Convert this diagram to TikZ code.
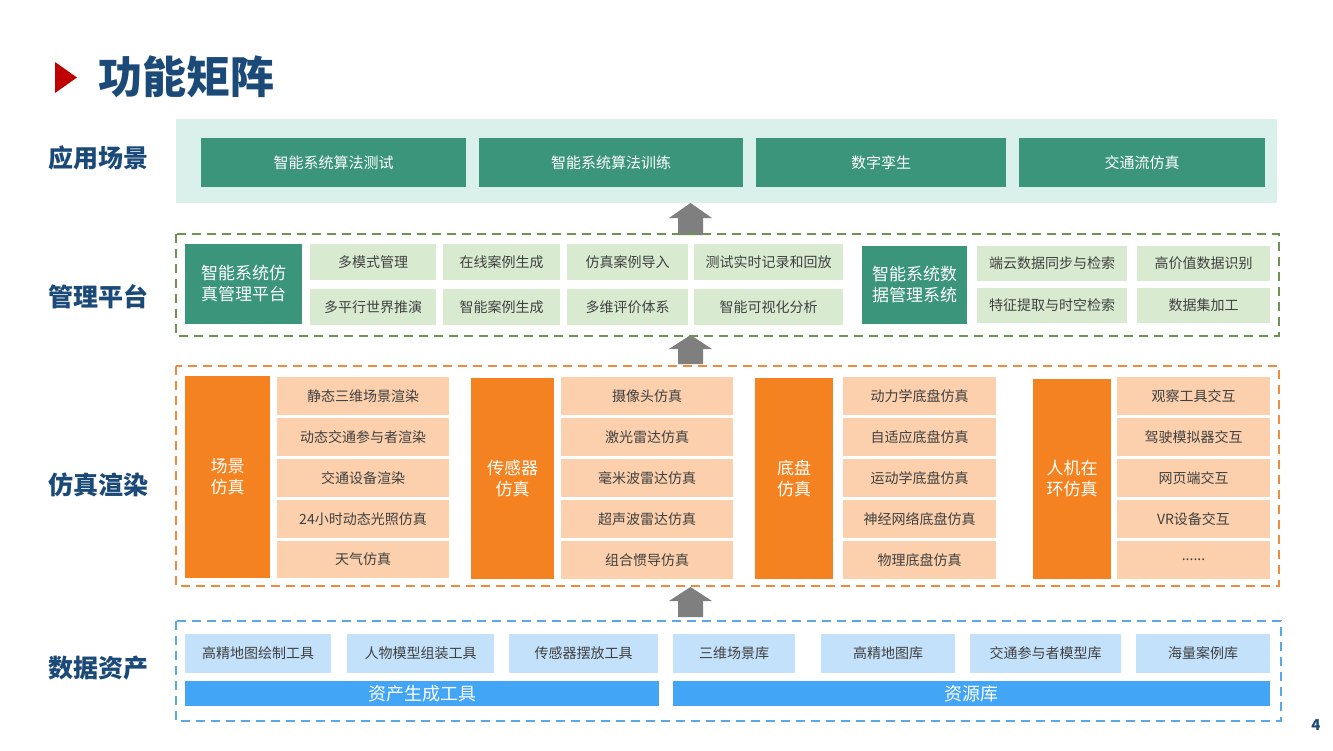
\documentclass[tikz,border=0pt]{standalone}
\usepackage{fontspec}
\setmainfont{Noto Sans CJK SC}
\definecolor{titleblue}{HTML}{1B4A78}
\definecolor{tealbg}{HTML}{DAF0EA}
\definecolor{tealbox}{HTML}{3A957A}
\definecolor{greendash}{HTML}{6F9350}
\definecolor{lightgreen}{HTML}{D8EBD0}
\definecolor{orangebox}{HTML}{F58220}
\definecolor{orangedash}{HTML}{F08A3C}
\definecolor{peach}{HTML}{FCD0AC}
\definecolor{bluedash}{HTML}{5AA8E6}
\definecolor{lightblue}{HTML}{C4E1FB}
\definecolor{bluebar}{HTML}{42A5F5}
\definecolor{arrowgray}{HTML}{7F7F7F}
\definecolor{txtgray}{HTML}{404040}
\definecolor{titlered}{HTML}{C00000}
\newcommand\rbox[7]{\node[#2, minimum width={(#5)-(#3)}, minimum height={(#6)-(#4)}] (#1) at ({((#3)+(#5))/2},{((#4)+(#6))/2}) {#7};}
\newcommand\blockarrow[5]{\fill[arrowgray] (#1) ++(-12.5,0) -- ++(0,{-(#3)}) -- ++(-9,0) -- ++(21.5,{-(#4)}) -- ++(21.5,{#4}) -- ++(-9,0) -- ++(0,{#3}) -- cycle;}
\begin{document}
\begin{tikzpicture}[x=1pt,y=-1pt,
  bx/.style={inner sep=0pt, align=center, font=\fontsize{14}{17}\selectfont, text=txtgray},
  appbox/.style={bx, fill=tealbox, text=white, font=\fontsize{15}{18}\selectfont},
  mainbox/.style={bx, fill=tealbox, text=white, font=\fontsize{17}{21}\selectfont},
  gbox/.style={bx, fill=lightgreen},
  obox/.style={bx, fill=orangebox, text=white, font=\fontsize{17}{21}\selectfont},
  pbox/.style={bx, fill=peach},
  lbbox/.style={bx, fill=lightblue},
  bbar/.style={bx, fill=bluebar, text=white, font=\fontsize{18}{21}\selectfont},
  layerlabel/.style={font=\fontsize{25}{28}\selectfont\bfseries, text=titleblue, inner sep=0pt},
  dashborder/.style={line width=1.8pt, dash pattern=on 9pt off 6pt}
]
\useasboundingbox (0,0) rectangle (1333,750);
\fill[white] (0,0) rectangle (1333,750);

% title
\fill[titlered] (55,62) -- (77,77.5) -- (55,93) -- cycle;
\node[anchor=west, inner sep=0pt, font=\fontsize{44}{48}\selectfont\bfseries, text=titleblue] (title) at (98,77) {功能矩阵};

% layer labels
\node[layerlabel] (l1) at (98,158) {应用场景};
\node[layerlabel] (l2) at (98,297) {管理平台};
\node[layerlabel] (l3) at (98,485) {仿真渲染};
\node[layerlabel] (l4) at (98,668) {数据资产};

% arrows (drawn below borders)
\coordinate (ar1) at (690.5,235);
\coordinate (ar2) at (690.5,364);
\coordinate (ar3) at (690.5,617);
\blockarrow{ar1}{}{17}{15}{}
\blockarrow{ar2}{}{15}{14}{}
\blockarrow{ar3}{}{16}{14}{}

% layer 1
\fill[tealbg] (176,119) rectangle (1277,203);
\rbox{a1}{appbox}{201}{138}{466}{187}{智能系统算法测试}
\rbox{a2}{appbox}{479}{138}{743}{187}{智能系统算法训练}
\rbox{a3}{appbox}{756}{138}{1006}{187}{数字孪生}
\rbox{a4}{appbox}{1019}{138}{1265}{187}{交通流仿真}

% layer 2
\draw[dashborder, greendash] (176,234) rectangle (1279,336);
\rbox{m1}{mainbox}{185}{244}{302}{324}{智能系统仿\\真管理平台}
\rbox{g11}{gbox}{310}{244}{436}{280}{多模式管理}
\rbox{g12}{gbox}{443}{244}{560}{280}{在线案例生成}
\rbox{g13}{gbox}{567}{244}{688}{280}{仿真案例导入}
\rbox{g14}{gbox}{694}{244}{843}{280}{测试实时记录和回放}
\rbox{g21}{gbox}{310}{289}{436}{325}{多平行世界推演}
\rbox{g22}{gbox}{443}{289}{560}{325}{智能案例生成}
\rbox{g23}{gbox}{567}{289}{688}{325}{多维评价体系}
\rbox{g24}{gbox}{694}{289}{843}{325}{智能可视化分析}
\rbox{m2}{mainbox}{862}{246}{967}{324}{智能系统数\\据管理系统}
\rbox{g15}{gbox}{977}{246}{1127}{281}{端云数据同步与检索}
\rbox{g16}{gbox}{1137}{246}{1270}{281}{高价值数据识别}
\rbox{g25}{gbox}{977}{288}{1127}{323}{特征提取与时空检索}
\rbox{g26}{gbox}{1137}{288}{1270}{323}{数据集加工}

% layer 3
\draw[dashborder, orangedash] (176,366) rectangle (1279,586);
\rbox{o1}{obox}{185}{376}{270}{578}{场景\\仿真}
\rbox{p11}{pbox}{277}{377}{449}{415}{静态三维场景渲染}
\rbox{p12}{pbox}{277}{418}{449}{456}{动态交通参与者渲染}
\rbox{p13}{pbox}{277}{459}{449}{497}{交通设备渲染}
\rbox{p14}{pbox}{277}{500}{449}{538}{24小时动态光照仿真}
\rbox{p15}{pbox}{277}{541}{449}{578}{天气仿真}
\rbox{o2}{obox}{471}{378}{554}{579}{传感器\\仿真}
\rbox{p21}{pbox}{561}{377}{733}{415}{摄像头仿真}
\rbox{p22}{pbox}{561}{418}{733}{456}{激光雷达仿真}
\rbox{p23}{pbox}{561}{459}{733}{497}{毫米波雷达仿真}
\rbox{p24}{pbox}{561}{500}{733}{538}{超声波雷达仿真}
\rbox{p25}{pbox}{561}{541}{733}{579}{组合惯导仿真}
\rbox{o3}{obox}{755}{378}{833}{579}{底盘\\仿真}
\rbox{p31}{pbox}{843}{377}{996}{415}{动力学底盘仿真}
\rbox{p32}{pbox}{843}{418}{996}{456}{自适应底盘仿真}
\rbox{p33}{pbox}{843}{459}{996}{497}{运动学底盘仿真}
\rbox{p34}{pbox}{843}{500}{996}{538}{神经网络底盘仿真}
\rbox{p35}{pbox}{843}{541}{996}{579}{物理底盘仿真}
\rbox{o4}{obox}{1033}{379}{1111}{579}{人机在\\环仿真}
\rbox{p41}{pbox}{1117}{377}{1270}{415}{观察工具交互}
\rbox{p42}{pbox}{1117}{418}{1270}{456}{驾驶模拟器交互}
\rbox{p43}{pbox}{1117}{459}{1270}{497}{网页端交互}
\rbox{p44}{pbox}{1117}{500}{1270}{538}{VR设备交互}
\rbox{p45}{pbox}{1117}{541}{1270}{579}{......}

% layer 4
\draw[dashborder, bluedash] (176,621) rectangle (1281,721);
\rbox{b1}{lbbox}{185}{634}{331}{673}{高精地图绘制工具}
\rbox{b2}{lbbox}{347}{634}{494}{673}{人物模型组装工具}
\rbox{b3}{lbbox}{509}{634}{658}{673}{传感器摆放工具}
\rbox{b4}{lbbox}{673}{634}{795}{673}{三维场景库}
\rbox{b5}{lbbox}{821}{634}{955}{673}{高精地图库}
\rbox{b6}{lbbox}{970}{634}{1121}{673}{交通参与者模型库}
\rbox{b7}{lbbox}{1136}{634}{1270}{673}{海量案例库}
\rbox{bar1}{bbar}{185}{681}{659}{706}{资产生成工具}
\rbox{bar2}{bbar}{673}{681}{1270}{706}{资源库}

% page number
\node[font=\fontsize{15}{18}\selectfont\bfseries, text=titleblue, inner sep=0pt] (pg) at (1316,725) {4};
\end{tikzpicture}
\end{document}
